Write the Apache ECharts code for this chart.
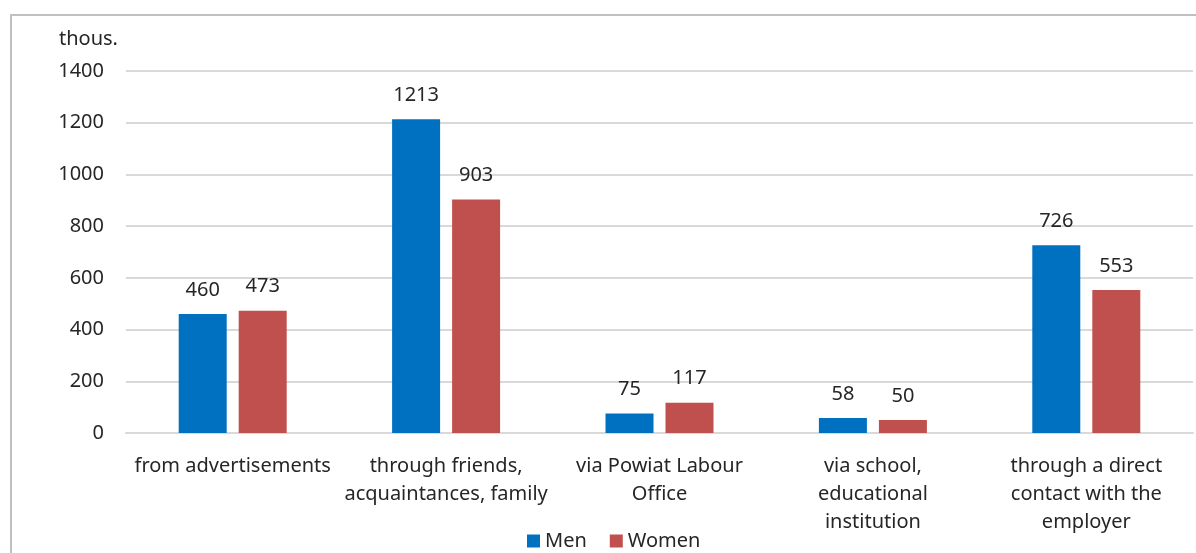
<!DOCTYPE html>
<html>
<head>
<meta charset="utf-8">
<script src="https://cdn.jsdelivr.net/npm/echarts@6/dist/echarts.min.js"></script>
<style>html,body{margin:0;padding:0;background:#fff;}#c{width:1196px;height:553px;}</style>
</head>
<body>
<div id="c"></div>
<script>
const categories = ["from advertisements", "through friends,\nacquaintances, family", "via Powiat Labour\nOffice", "via school,\neducational\ninstitution", "through a direct\ncontact with the\nemployer"];
const men = [460, 1213, 75, 58, 726];
const women = [473, 903, 117, 50, 553];
const yTicks = { min: 0, max: 1400, interval: 200 };
const unitLabel = "thous.";

const FONT = "Noto Sans";
const TXT = "#262626";
const chart = echarts.init(document.getElementById('c'));
chart.setOption({
  animation: false,
  textStyle: { fontFamily: FONT },
  graphic: [
    { type: 'rect', shape: { x: 11, y: 15, width: 1200, height: 600 }, style: { fill: 'none', stroke: '#c0c0c0', lineWidth: 2 }, silent: true },
    { type: 'text', left: 59, top: 29, style: { text: unitLabel, font: '20px "Noto Sans"', fill: TXT } }
  ],
  grid: { left: 126, right: 3, top: 71, bottom: 120, containLabel: false },
  legend: {
    top: 526, left: 522, itemWidth: 13, itemHeight: 13, itemGap: 23,
    icon: 'rect',
    textStyle: { fontSize: 20, color: TXT, fontFamily: FONT },
    data: ['Men', 'Women']
  },
  xAxis: {
    type: 'category', data: categories,
    axisLine: { lineStyle: { color: '#d9d9d9', width: 2 } },
    axisTick: { show: false },
    axisLabel: { interval: 0, color: TXT, fontSize: 20, lineHeight: 28, margin: 19, fontFamily: FONT }
  },
  yAxis: {
    type: 'value', min: yTicks.min, max: yTicks.max, interval: yTicks.interval,
    axisLine: { show: false }, axisTick: { show: false },
    axisLabel: { color: TXT, fontSize: 20, margin: 22, fontFamily: FONT, formatter: v => String(v) },
    splitLine: { lineStyle: { color: '#d9d9d9', width: 2 } }
  },
  series: [
    { name: 'Men', type: 'bar', data: men, barWidth: 48, barGap: '25%', itemStyle: { color: '#0070C0' },
      label: { show: true, position: 'top', distance: 14, color: TXT, fontSize: 20, fontFamily: FONT } },
    { name: 'Women', type: 'bar', data: women, barWidth: 48, itemStyle: { color: '#C0504D' },
      label: { show: true, position: 'top', distance: 14, color: TXT, fontSize: 20, fontFamily: FONT } }
  ]
});
</script>
</body>
</html>
